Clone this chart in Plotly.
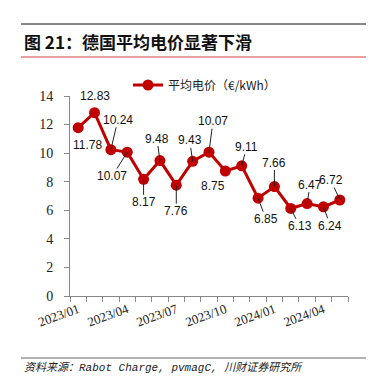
import plotly.graph_objects as go

months = ["2023/01", "2023/02", "2023/03", "2023/04", "2023/05", "2023/06",
          "2023/07", "2023/08", "2023/09", "2023/10", "2023/11", "2023/12",
          "2024/01", "2024/02", "2024/03", "2024/04", "2024/05"]
price = [11.78, 12.83, 10.24, 10.07, 8.17, 9.48, 7.76, 9.43, 10.07, 8.75,
         9.11, 6.85, 7.66, 6.13, 6.47, 6.24, 6.72]
series_name = "平均电价（€/kWh）"
y_ticks = [0, 2, 4, 6, 8, 10, 12, 14]

# label offsets (pixels) and whether a leader line is drawn
label_dx = [9, 0, 7, -15, 0, -3, 0, -3, 4, -12, 5, 8, 0, 9, 3, 7, -9]
label_dy = [17, -17, -30, 24, 23, -22, 26, -21, -31, 15, -19, 21, -24, 18, -19, 19, -20]
leader = [False, False, True, True, True, True, True, True, True, False,
          True, True, True, True, True, True, True]

RED = "#C00000"
idx = list(range(len(months)))

fig = go.Figure()
fig.add_trace(go.Scatter(
    x=idx, y=price, mode="lines+markers", name=series_name,
    line=dict(color=RED, width=3),
    marker=dict(color=RED, size=11),
    showlegend=True,
))

for i, v in enumerate(price):
    fig.add_annotation(
        x=i, y=v, xref="x", yref="y", text=f"{v:.2f}",
        showarrow=True, arrowhead=0, arrowwidth=1,
        arrowcolor="#222222" if leader[i] else "rgba(0,0,0,0)",
        ax=label_dx[i], ay=label_dy[i],
        font=dict(family="Liberation Sans, Arial", size=12, color="#111111"),
        borderpad=0,
    )

tick_idx = [i for i in idx if i % 3 == 0]
fig.update_xaxes(
    range=[-0.5, len(months) - 0.5],
    tickmode="array", tickvals=tick_idx, ticktext=[months[i] for i in tick_idx],
    tickangle=-20, ticks="", ticklen=0,
    minor=dict(tickmode="linear", tick0=-0.5, dtick=1, ticks="outside",
               ticklen=5, tickcolor="#888888", tickwidth=1, showgrid=False),
    showline=True, linecolor="#888888", linewidth=1,
    showgrid=False, zeroline=False,
    tickfont=dict(family="Liberation Serif, Times New Roman", size=13, color="#222222"),
)
fig.update_yaxes(
    range=[0, 14], tickmode="array", tickvals=y_ticks,
    ticks="outside", ticklen=5, tickcolor="#888888",
    showline=True, linecolor="#888888", linewidth=1,
    showgrid=False, zeroline=False, ticklabelstandoff=8,
    tickfont=dict(family="Liberation Serif, Times New Roman", size=14, color="#222222"),
)

W0, W1 = 62, 340
H0, H1 = 88, 288


def px(xp):
    return (xp - W0) / (W1 - W0)


def py(yp):
    return (H1 - yp) / (H1 - H0)


fig.add_shape(type="line", xref="paper", yref="paper",
              x0=px(13), x1=px(363), y0=py(16), y1=py(16),
              line=dict(color="#111111", width=1))
fig.add_shape(type="line", xref="paper", yref="paper",
              x0=px(13), x1=px(363), y0=py(49), y1=py(49),
              line=dict(color="#D04040", width=1))
fig.add_shape(type="line", xref="paper", yref="paper",
              x0=px(13), x1=px(363), y0=py(350), y1=py(350),
              line=dict(color="#999999", width=1.5))

fig.add_annotation(xref="paper", yref="paper", x=px(14), y=py(33),
                   xanchor="left", yanchor="middle", showarrow=False,
                   text="<b>图 21：德国平均电价显著下滑</b>",
                   font=dict(family="Noto Sans CJK SC", size=17, color="#111111"))
fig.add_annotation(xref="paper", yref="paper", x=px(14), y=py(359),
                   xanchor="left", yanchor="middle", showarrow=False,
                   text="<i>资料来源：Rabot Charge, pvmagC, 川财证券研究所</i>",
                   font=dict(family="Liberation Mono, Noto Sans CJK SC", size=11, color="#222222"))

fig.update_layout(
    width=374, height=381,
    margin=dict(l=W0, r=374 - W1, t=H0, b=381 - H1),
    paper_bgcolor="white", plot_bgcolor="white",
    legend=dict(x=px(120), y=py(77), xanchor="left", yanchor="middle",
                orientation="h", bgcolor="rgba(0,0,0,0)",
                font=dict(family="Noto Sans CJK SC", size=12, color="#222222")),
)

fig.write_html("out.html")
